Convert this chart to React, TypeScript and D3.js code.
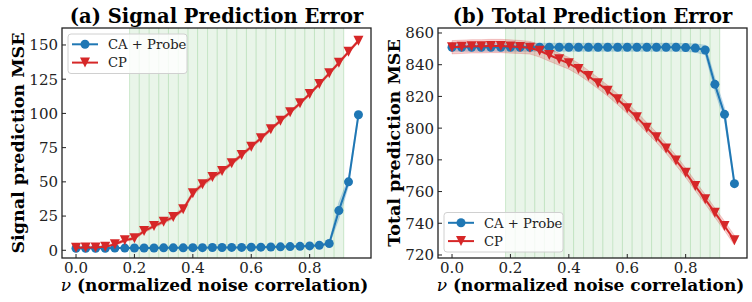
import React, { useEffect, useRef } from 'react';
import * as d3 from 'd3';

// noise correlation values (x)
const nu = [0.0, 0.033, 0.067, 0.1, 0.133, 0.167, 0.2, 0.233, 0.267, 0.3, 0.333, 0.367, 0.4, 0.433, 0.467,
    0.5, 0.533, 0.567, 0.6, 0.633, 0.667, 0.7, 0.733, 0.767, 0.8, 0.833, 0.867, 0.9, 0.933, 0.967];

// highlighted nu values (green spans)
const highlighted = [0.2, 0.233, 0.267, 0.3, 0.333, 0.367, 0.4, 0.433, 0.467, 0.5, 0.533, 0.567, 0.6,
    0.633, 0.667, 0.7, 0.733, 0.767, 0.8, 0.833, 0.867, 0.9];
const spanWidth = 0.0333;

// (a) signal prediction error
const signalProbe = [1.5, 1.5, 1.5, 1.5, 1.6, 1.6, 1.7, 1.7, 1.7, 1.8, 1.8, 1.8, 1.9, 1.9, 2.0, 2.0, 2.1, 2.1,
    2.2, 2.3, 2.4, 2.5, 2.7, 2.9, 3.2, 3.6, 5.0, 29, 50, 99];
const signalProbeErr = [0.3, 0.3, 0.3, 0.3, 0.3, 0.3, 0.3, 0.3, 0.3, 0.3, 0.3, 0.3, 0.3, 0.3, 0.3, 0.3, 0.3, 0.3,
    0.3, 0.3, 0.3, 0.3, 0.4, 0.4, 0.4, 0.5, 1.0, 6.0, 3.0, 2.0];
const signalCP = [1.9, 2.0, 2.0, 2.5, 4.4, 7.3, 8.8, 14.1, 17.7, 20.9, 24.3, 30.0, 41.6, 48.2, 53.5, 57.9, 63.5,
    69.6, 75.7, 81.8, 88.4, 94.7, 100.8, 107.4, 114.2, 121.5, 129.3, 137.0, 145.0, 153.1];
const signalCPErr = [1.0, 1.0, 1.0, 1.0, 1.0, 1.0, 1.1, 1.2, 1.2, 1.3, 1.4, 1.5, 1.6, 1.6, 1.5, 1.5, 1.4, 1.4,
    1.3, 1.3, 1.3, 1.2, 1.2, 1.2, 1.2, 1.2, 1.2, 1.2, 1.2, 1.2];

// (b) total prediction error
const totalProbe = [851, 851, 851, 851, 851, 851, 851, 851, 851, 851, 851, 851, 851, 851, 851, 851, 851, 851,
    851, 851, 851, 851, 851, 851, 850.8, 850.5, 849.3, 827.6, 808.7, 765];
const totalProbeErr = [2.5, 2.5, 2.5, 2.5, 2.5, 2.5, 2.5, 2.5, 2.5, 2.5, 2.5, 2.5, 2.5, 2.5, 2.5, 2.5, 2.5, 2.5,
    2.5, 2.5, 2.5, 2.5, 2.5, 2.5, 2.5, 2.6, 3.0, 4.0, 4.0, 2.0];
const totalCP = [851, 851.3, 851.6, 851.6, 851.8, 851.8, 851.5, 851.2, 850.7, 848.8, 846.1, 843.4, 840.9, 837.3,
    832.9, 828.3, 823.6, 818.2, 812.5, 806.8, 800.3, 794.2, 787.2, 779.6, 771.9, 763.5, 755.1, 746.7, 738.3, 729.3];
const totalCPErr = [4.2, 4.2, 4.2, 4.2, 4.2, 4.2, 4.2, 4.1, 4.0, 4.0, 3.9, 3.8, 3.7, 3.6, 3.5, 3.5, 3.4, 3.4,
    3.3, 3.3, 3.2, 3.2, 3.1, 3.1, 3.0, 3.0, 3.0, 3.0, 3.0, 3.0];

const xTicks = [0.0, 0.2, 0.4, 0.6, 0.8];
const signalTicks = [0, 25, 50, 75, 100, 125, 150];
const totalTicks = [720, 740, 760, 780, 800, 820, 840, 860];

const seriesNames = ['CA + Probe', 'CP'];

const BLUE = '#1f77b4';
const RED = '#d62728';
const GREEN = '#2ca02c';
const FONT = '"DejaVu Serif", serif';
const TRI = 'M-5,-5L5,-5L0,5Z';

const drawPanel = (svg, cfg) => {
    const { left, right, top, bottom, yDomain, yTicks, title, yLabel, probe, probeErr, cp, cpErr, legend } = cfg;

    const x = d3.scaleLinear().domain([-0.048, 1.01]).range([left, right]);
    const y = d3.scaleLinear().domain(yDomain).range([bottom, top]);

    const g = svg.append('g');

    g.append('defs').append('clipPath').attr('id', cfg.id)
        .append('rect').attr('x', left).attr('y', top).attr('width', right - left).attr('height', bottom - top);

    const plot = g.append('g').attr('clip-path', `url(#${cfg.id})`);

    // green highlight spans
    plot.selectAll('rect.span')
        .data(highlighted)
        .join('rect')
        .attr('class', 'span')
        .attr('x', d => x(d - spanWidth / 2))
        .attr('width', d => x(d + spanWidth / 2) - x(d - spanWidth / 2))
        .attr('y', top)
        .attr('height', bottom - top)
        .attr('fill', GREEN)
        .attr('fill-opacity', 0.1);

    plot.selectAll('line.span')
        .data(highlighted.map(d => d - spanWidth / 2).concat([highlighted[highlighted.length - 1] + spanWidth / 2]))
        .join('line')
        .attr('class', 'span')
        .attr('x1', d => x(d)).attr('x2', d => x(d))
        .attr('y1', top).attr('y2', bottom)
        .attr('stroke', GREEN)
        .attr('stroke-opacity', 0.2)
        .attr('stroke-width', 1);

    const area = (vals, errs) => d3.area()
        .x((d, i) => x(nu[i]))
        .y0((d, i) => y(vals[i] - errs[i]))
        .y1((d, i) => y(vals[i] + errs[i]))(vals);

    const line = d3.line().x((d, i) => x(nu[i])).y(d => y(d));

    const series = [
        { vals: probe, errs: probeErr, color: BLUE },
        { vals: cp, errs: cpErr, color: RED },
    ];

    series.forEach(s => {
        plot.append('path')
            .attr('d', area(s.vals, s.errs))
            .attr('fill', s.color)
            .attr('fill-opacity', 0.22)
            .attr('stroke', s.color)
            .attr('stroke-opacity', 0.2)
            .attr('stroke-width', 1);
    });

    series.forEach((s, k) => {
        plot.append('path')
            .attr('d', line(s.vals))
            .attr('fill', 'none')
            .attr('stroke', s.color)
            .attr('stroke-width', 2);
        if (k === 0) {
            plot.selectAll(null)
                .data(s.vals)
                .join('circle')
                .attr('cx', (d, i) => x(nu[i]))
                .attr('cy', d => y(d))
                .attr('r', 4.5)
                .attr('fill', s.color);
        } else {
            plot.selectAll(null)
                .data(s.vals)
                .join('path')
                .attr('d', TRI)
                .attr('transform', (d, i) => `translate(${x(nu[i])},${y(d)})`)
                .attr('fill', s.color);
        }
    });

    // frame
    g.append('rect')
        .attr('x', left).attr('y', top)
        .attr('width', right - left).attr('height', bottom - top)
        .attr('fill', 'none')
        .attr('stroke', '#222')
        .attr('stroke-width', 1.3);

    // ticks (inward)
    g.selectAll('line.xt').data(xTicks).join('line')
        .attr('x1', d => x(d)).attr('x2', d => x(d))
        .attr('y1', bottom).attr('y2', bottom - 4)
        .attr('stroke', '#222').attr('stroke-width', 1);
    g.selectAll('text.xt').data(xTicks).join('text')
        .attr('x', d => x(d)).attr('y', bottom + 14.5)
        .attr('text-anchor', 'middle')
        .attr('font-family', FONT).attr('font-size', 15).attr('fill', '#222')
        .text(d => d.toFixed(1));

    g.selectAll('line.yt').data(yTicks).join('line')
        .attr('x1', left).attr('x2', left + 4)
        .attr('y1', d => y(d)).attr('y2', d => y(d))
        .attr('stroke', '#222').attr('stroke-width', 1);
    g.selectAll('text.yt').data(yTicks).join('text')
        .attr('x', left - 4).attr('y', d => y(d))
        .attr('dy', '0.36em')
        .attr('text-anchor', 'end')
        .attr('font-family', FONT).attr('font-size', 15).attr('fill', '#222')
        .text(d => d);

    // title and labels
    g.append('text')
        .attr('x', (left + right) / 2).attr('y', 23)
        .attr('text-anchor', 'middle')
        .attr('font-family', FONT).attr('font-size', 19.5).attr('font-weight', 'bold')
        .text(title);

    g.append('text')
        .attr('transform', `translate(${left - 44},${(top + bottom) / 2}) rotate(-90)`)
        .attr('dy', '0.36em')
        .attr('text-anchor', 'middle')
        .attr('font-family', FONT).attr('font-size', 17.5).attr('font-weight', 'bold')
        .text(yLabel);

    const xl = g.append('text')
        .attr('x', (left + right) / 2 - 2).attr('y', 291)
        .attr('text-anchor', 'middle')
        .attr('font-family', FONT).attr('font-size', 17).attr('font-weight', 'bold');
    xl.append('tspan').attr('font-style', 'italic').attr('font-weight', 'normal').text('ν');
    xl.append('tspan').text(' (normalized noise correlation)');

    // legend
    const lg = g.append('g').attr('transform', `translate(${legend.x},${legend.y})`);
    lg.append('rect')
        .attr('width', 119).attr('height', 39.5).attr('rx', 3)
        .attr('fill', 'white').attr('fill-opacity', 0.8)
        .attr('stroke', '#d0d0d0').attr('stroke-width', 1);
    seriesNames.forEach((name, k) => {
        const cy = 10.3 + k * 18.3;
        const color = k === 0 ? BLUE : RED;
        lg.append('line')
            .attr('x1', 4).attr('x2', 30).attr('y1', cy).attr('y2', cy)
            .attr('stroke', color).attr('stroke-width', 2);
        if (k === 0) {
            lg.append('circle').attr('cx', 17).attr('cy', cy).attr('r', 4.5).attr('fill', color);
        } else {
            lg.append('path').attr('d', TRI)
                .attr('transform', `translate(17,${cy})`).attr('fill', color);
        }
        lg.append('text')
            .attr('x', 40).attr('y', cy).attr('dy', '0.36em')
            .attr('font-family', FONT).attr('font-size', 13.2).attr('fill', '#222')
            .text(name);
    });
};

const App = () => {
    const svgRef = useRef();

    useEffect(() => {
        const svg = d3.select(svgRef.current);
        svg.selectAll('*').remove();

        drawPanel(svg, {
            id: 'clipA',
            left: 62, right: 371, top: 28, bottom: 258,
            yDomain: [-5.63, 162.4],
            yTicks: signalTicks,
            title: '(a) Signal Prediction Error',
            yLabel: 'Signal prediction MSE',
            probe: signalProbe, probeErr: signalProbeErr,
            cp: signalCP, cpErr: signalCPErr,
            legend: { x: 68, y: 34 },
        });

        drawPanel(svg, {
            id: 'clipB',
            left: 438, right: 747, top: 28, bottom: 258,
            yDomain: [718.1, 863.15],
            yTicks: totalTicks,
            title: '(b) Total Prediction Error',
            yLabel: 'Total prediction MSE',
            probe: totalProbe, probeErr: totalProbeErr,
            cp: totalCP, cpErr: totalCPErr,
            legend: { x: 444, y: 212.5 },
        });
    }, []);

    return (
        <svg ref={svgRef} width={752} height={302}
            style={{ position: 'absolute', left: 0, top: 0, background: 'white' }} />
    );
};

export default App;
